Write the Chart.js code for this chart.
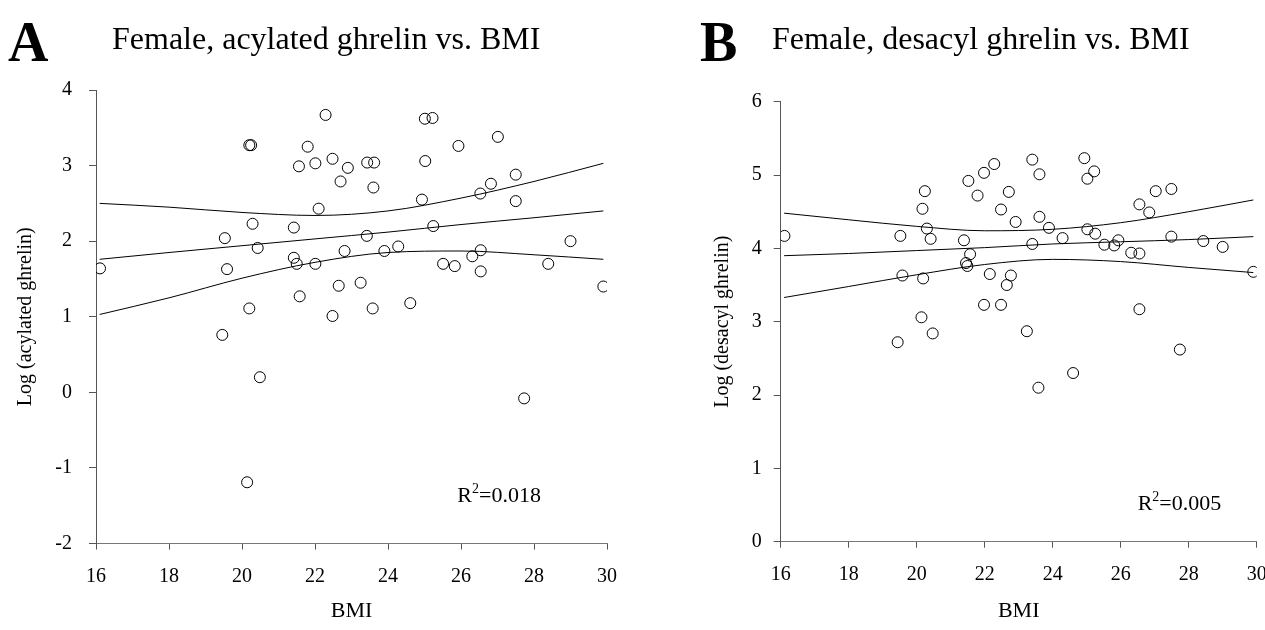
<!DOCTYPE html>
<html>
<head>
<meta charset="utf-8">
<script src="https://cdn.jsdelivr.net/npm/chart.js@4.4.0/dist/chart.umd.min.js"></script>
<style>
  body { margin: 0; background: #fff; width: 1265px; height: 630px; position: relative; overflow: hidden; font-family: "Liberation Serif", serif; color: #000; }
  .panel { position: absolute; top: 0; height: 630px; }
  .letter { position: absolute; font-weight: bold; font-size: 56px; line-height: 1; }
  .title { position: absolute; font-size: 32px; line-height: 1; white-space: nowrap; }
</style>
</head>
<body>
<div class="panel" style="left:0;width:640px"><canvas id="chartA"></canvas></div>
<div class="panel" style="left:640px;width:670px"><canvas id="chartB"></canvas></div>
<div class="letter" style="left:8px;top:14px">A</div>
<div class="title" style="left:112px;top:22px">Female, acylated ghrelin vs. BMI</div>
<div class="letter" style="left:700px;top:14px">B</div>
<div class="title" style="left:772px;top:22px">Female, desacyl ghrelin vs. BMI</div>
<script>
// panel A: BMI vs log(acylated ghrelin)
const bmiA = [16.11, 19.46, 19.53, 19.59, 20.14, 20.20, 20.25, 20.20, 20.29, 20.43, 20.49,
  21.42, 21.42, 21.50, 21.56, 21.58, 21.80, 22.01, 22.01, 22.10, 22.29, 22.48, 22.48,
  22.65, 22.70, 22.81, 22.90, 23.25, 23.42, 23.43, 23.58, 23.60, 23.62, 23.90, 24.28,
  24.61, 24.93, 25.01, 25.02, 25.22, 25.24, 25.51, 25.83, 25.93, 26.31, 26.53, 26.54,
  26.54, 26.82, 27.01, 27.50, 27.50, 27.73, 28.39, 29.00, 29.90];
const acylated = [1.64, 0.76, 2.04, 1.63, -1.19, 3.27, 3.27, 1.11, 2.23, 1.91, 0.20,
  2.18, 1.78, 1.70, 2.99, 1.27, 3.25, 3.03, 1.70, 2.43, 3.67, 3.09, 1.01,
  1.41, 2.79, 1.87, 2.97, 1.45, 2.07, 3.04, 1.11, 2.71, 3.04, 1.87, 1.93,
  1.18, 2.55, 3.62, 3.06, 3.63, 2.20, 1.70, 1.67, 3.26, 1.80, 2.63, 1.88,
  1.60, 2.76, 3.38, 2.88, 2.53, -0.08, 1.70, 2.00, 1.40];

// panel B: BMI vs log(desacyl ghrelin)
const bmiB = [16.11, 19.44, 19.52, 19.58, 20.14, 20.17, 20.19, 20.24, 20.30, 20.41, 20.47,
  21.39, 21.45, 21.49, 21.52, 21.57, 21.79, 21.98, 21.98, 22.15, 22.28, 22.48, 22.48,
  22.65, 22.71, 22.77, 22.91, 23.24, 23.40, 23.40, 23.58, 23.61, 23.61, 23.89, 24.29,
  24.60, 24.93, 25.02, 25.02, 25.22, 25.25, 25.52, 25.81, 25.93, 26.31, 26.55, 26.55,
  26.55, 26.84, 27.03, 27.49, 27.49, 27.74, 28.43, 29.00, 29.90];
const desacyl = [4.17, 2.72, 4.17, 3.63, 3.06, 4.54, 3.59, 4.78, 4.27, 4.13, 2.84,
  4.11, 3.80, 3.76, 4.92, 3.92, 4.72, 5.03, 3.23, 3.65, 5.15, 4.53, 3.23,
  3.50, 4.77, 3.63, 4.36, 2.87, 5.21, 4.06, 2.10, 5.01, 4.43, 4.28, 4.14,
  2.30, 5.23, 4.95, 4.26, 5.05, 4.20, 4.05, 4.04, 4.11, 3.94, 4.60, 3.93,
  3.17, 4.49, 4.78, 4.81, 4.16, 2.62, 4.10, 4.02, 3.68];

// regression line and 95% band
const fitBmi = [16.1, 18, 20, 22, 24, 26, 28, 29.9];
const fitA = [1.76, 1.85, 1.94, 2.03, 2.12, 2.22, 2.31, 2.40];
const upperA = [2.50, 2.45, 2.38, 2.34, 2.40, 2.57, 2.79, 3.03];
const lowerA = [1.03, 1.25, 1.51, 1.72, 1.85, 1.87, 1.82, 1.76];
const fitB = [3.90, 3.93, 3.97, 4.01, 4.06, 4.09, 4.12, 4.16];
const upperB = [4.48, 4.39, 4.30, 4.24, 4.26, 4.35, 4.50, 4.66];
const lowerB = [3.33, 3.48, 3.64, 3.78, 3.85, 3.82, 3.74, 3.67];

const serif = '"Liberation Serif", "Times New Roman", serif';
Chart.defaults.font.family = serif;
Chart.defaults.color = '#000';

function pts(xs, ys) {
    return xs.map((x, i) => ({ x: x, y: ys[i] }));
}

function lineSet(ys) {
    return {
        type: 'line',
        data: pts(fitBmi, ys),
        borderColor: '#000',
        borderWidth: 1,
        pointRadius: 0,
        fill: false,
        cubicInterpolationMode: 'monotone',
    };
}

// R squared label, placed in data units
const r2Label = {
    id: 'r2Label',
    afterDraw(chart, args, opts) {
        const ctx = chart.ctx;
        let x = chart.scales.x.getPixelForValue(opts.x);
        const y = chart.scales.y.getPixelForValue(opts.y);
        ctx.save();
        ctx.fillStyle = '#000';
        ctx.textBaseline = 'alphabetic';
        ctx.font = '22px ' + serif;
        ctx.fillText('R', x, y);
        x += ctx.measureText('R').width;
        ctx.font = '14px ' + serif;
        ctx.fillText('2', x, y - 9);
        x += ctx.measureText('2').width;
        ctx.font = '22px ' + serif;
        ctx.fillText('=' + opts.text, x, y);
        ctx.restore();
    }
};

function makeChart(id, xs, ys, fit, upper, lower, cfg) {
    const ctx = document.getElementById(id).getContext('2d');
    return new Chart(ctx, {
        type: 'scatter',
        data: {
            datasets: [
                {
                    data: pts(xs, ys),
                    pointStyle: 'circle',
                    pointRadius: 5.5,
                    pointBorderWidth: 1,
                    borderColor: '#000',
                    backgroundColor: 'rgba(0,0,0,0)',
                },
                lineSet(upper),
                lineSet(fit),
                lineSet(lower),
            ],
        },
        options: {
            responsive: true,
            maintainAspectRatio: false,
            animation: false,
            layout: { padding: cfg.padding },
            plugins: {
                legend: { display: false },
                tooltip: { enabled: false },
                r2Label: cfg.r2,
            },
            scales: {
                x: {
                    type: 'linear',
                    min: 16,
                    max: 30,
                    afterFit: s => { s.height = cfg.xHeight; },
                    ticks: { stepSize: 2, padding: 15, font: { size: 20 } },
                    grid: { drawOnChartArea: false, tickLength: 6, color: '#555' },
                    border: { color: '#777', width: 1 },
                    title: { display: true, text: 'BMI', font: { size: 22 }, padding: { top: 0, bottom: 6 } },
                },
                y: {
                    min: cfg.yMin,
                    max: cfg.yMax,
                    afterFit: s => { s.width = cfg.yWidth; },
                    ticks: { stepSize: 1, padding: cfg.yPad, font: { size: 20 } },
                    grid: { drawOnChartArea: false, tickLength: 7, color: '#555' },
                    border: { color: '#555', width: 1 },
                    title: { display: true, text: cfg.yTitle, font: { size: 20 }, padding: { top: cfg.yTitleTop, bottom: 0 } },
                },
            },
        },
        plugins: [r2Label],
    });
}

makeChart('chartA', bmiA, acylated, fitA, upperA, lowerA, {
    padding: { top: 90, right: 33, left: 0, bottom: 0 },
    xHeight: 86.5,
    yWidth: 96,
    yPad: 17,
    yTitleTop: 14,
    yMin: -2,
    yMax: 4,
    yTitle: 'Log (acylated ghrelin)',
    r2: { x: 25.9, y: -1.45, text: '0.018' },
});

makeChart('chartB', bmiB, desacyl, fitB, upperB, lowerB, {
    padding: { top: 101.7, right: 53.3, left: 0, bottom: 0 },
    xHeight: 88.3,
    yWidth: 140.7,
    yPad: 12,
    yTitleTop: 71,
    yMin: 0,
    yMax: 6,
    yTitle: 'Log (desacyl ghrelin)',
    r2: { x: 26.5, y: 0.43, text: '0.005' },
});
</script>
</body>
</html>
